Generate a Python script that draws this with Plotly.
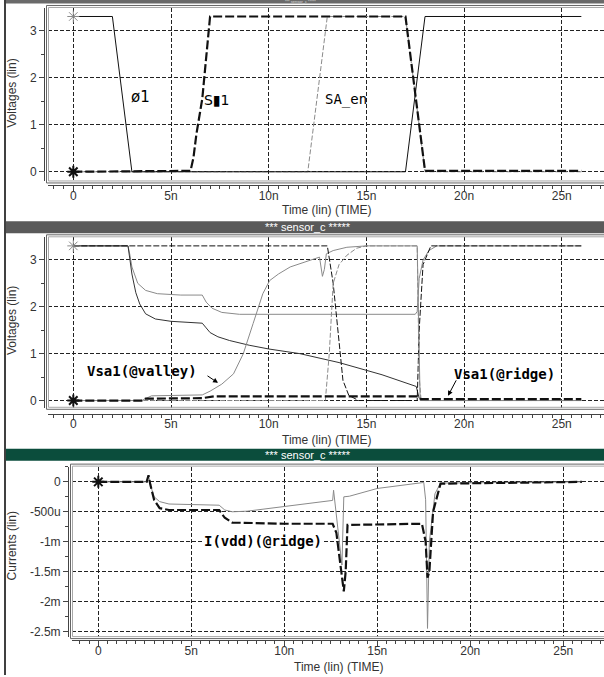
import plotly.graph_objects as go

W, H = 604, 677


def px(x):
    return x / W


def py(y):
    return 1 - y / H


# ---------------- data (time in ns) ----------------
# Panel 1 : voltages
t_phi1 = [0, 2.0, 3.0, 17.0, 18.0, 26.0]
v_phi1 = [3.3, 3.3, 0.0, 0.0, 3.3, 3.3]

t_sw1 = [0, 6.0, 6.15, 6.3, 6.6, 7.0, 17.0, 18.0, 26.0]
v_sw1 = [0.0, 0.02, 0.3, 0.8, 1.55, 3.3, 3.3, 0.02, 0.02]

t_saen = [0, 12.0, 13.0, 17.0, 18.0, 26.0]
v_saen = [0.0, 0.0, 3.3, 3.3, 0.0, 0.0]

# Panel 2 : voltages
t_a = [0, 2.8, 2.9, 3.0, 3.3, 3.7, 4.3, 5.5, 6.6, 6.8, 7.1, 7.6, 8.5, 17.5, 17.6, 17.7, 17.9, 18.2, 18.6, 26.0]
v_a = [3.3, 3.3, 3.1, 2.85, 2.5, 2.35, 2.28, 2.25, 2.25, 2.1, 1.97, 1.88, 1.84, 1.84, 1.9, 2.6, 3.0, 3.2, 3.3, 3.3]

t_b = [0, 2.8, 2.9, 3.0, 3.2, 3.4, 3.7, 4.2, 5.0, 6.6, 6.8, 7.0, 7.4, 8.0, 9.0, 10.0, 11.6, 13.6, 15.8, 17.55, 17.7, 18.0, 26.0]
v_b = [3.3, 3.3, 3.0, 2.7, 2.3, 2.06, 1.85, 1.74, 1.69, 1.65, 1.55, 1.45, 1.36, 1.28, 1.18, 1.1, 1.0, 0.81, 0.55, 0.3, 0.05, 0.0, 0.0]

t_valley = [0, 3.5, 4.0, 6.6, 7.0, 7.6, 8.2, 8.7, 9.2, 9.7, 10.05, 10.5, 11.1, 11.6, 12.6, 12.75, 12.85, 12.95, 13.3, 14.0, 15.0, 17.6, 17.75, 17.9, 26.0]
v_valley = [0.0, 0.0, 0.1, 0.12, 0.2, 0.35, 0.57, 1.0, 1.64, 2.28, 2.56, 2.7, 2.85, 2.92, 3.06, 2.65, 2.8, 3.13, 3.2, 3.27, 3.3, 3.3, 0.0, 0.0, 0.0]

t_d = [0, 2.8, 13.0, 13.3, 13.6, 13.8, 14.1, 14.6, 17.6, 17.7, 17.9, 18.3, 26.0]
v_d = [3.3, 3.3, 3.3, 2.5, 1.2, 0.43, 0.11, 0.0, 0.0, 1.5, 2.9, 3.3, 3.3]

t_e = [0, 12.9, 13.1, 13.3, 13.6, 14.0, 14.5, 15.0, 17.6, 17.7, 17.8, 26.0]
v_e = [0.0, 0.0, 1.0, 2.5, 2.9, 3.1, 3.25, 3.3, 3.3, 0.5, 0.0, 0.0]

t_ridge = [0, 3.5, 3.7, 6.6, 7.2, 17.6, 17.8, 26.0]
v_ridge = [0.0, 0.0, 0.04, 0.05, 0.09, 0.09, 0.03, 0.03]

# Panel 3 : currents (mA)
t_i_ridge = [0, 2.6, 2.7, 2.8, 3.0, 3.3, 3.8, 6.5, 6.8, 7.2, 10.0, 12.6, 12.8, 13.0, 13.2, 13.3, 13.4, 17.4, 17.6, 17.7, 17.8, 18.0, 18.4, 26.0]
i_ridge = [0, 0, 0.11, -0.05, -0.3, -0.44, -0.47, -0.47, -0.6, -0.68, -0.7, -0.7, -0.85, -1.3, -1.83, -1.5, -0.72, -0.7, -1.0, -1.6, -1.5, -0.5, -0.03, 0]

t_i_valley = [0, 2.6, 2.7, 2.8, 3.0, 3.3, 3.8, 6.5, 6.8, 7.2, 8.0, 10.9, 12.6, 12.65, 12.9, 13.1, 13.2, 13.5, 15.0, 17.5, 17.6, 17.7, 17.8, 18.1, 18.4, 26.0]
i_valley = [0, 0, 0.11, -0.05, -0.25, -0.33, -0.37, -0.39, -0.47, -0.5, -0.49, -0.38, -0.31, -0.14, -0.8, -1.39, -0.25, -0.24, -0.11, -0.01, -0.3, -2.45, -1.0, -0.2, -0.02, 0]

x_ticks = [0, 5, 10, 15, 20, 25]
x_labels = ["0", "5n", "10n", "15n", "20n", "25n"]
v_ticks = [0, 1, 2, 3]
v_labels = ["0", "1", "2", "3"]
i_ticks = [0, -0.5, -1.0, -1.5, -2.0, -2.5]
i_labels = ["0", "-500u", "-1m", "-1.5m", "-2m", "-2.5m"]

# ---------------- figure ----------------
fig = go.Figure()

GRAY = "#8a8a8a"
BLACK = "#111111"


def add_line(t, v, n, color, width, dash="solid"):
    fig.add_trace(go.Scatter(
        x=t, y=v, xaxis="x" if n == 1 else f"x{n}", yaxis="y" if n == 1 else f"y{n}",
        mode="lines", line=dict(color=color, width=width, dash=dash),
        hoverinfo="skip", showlegend=False))


def add_star(x, y, n, color, width):
    fig.add_trace(go.Scatter(
        x=[x], y=[y], xaxis="x" if n == 1 else f"x{n}", yaxis="y" if n == 1 else f"y{n}",
        mode="markers", marker=dict(symbol="asterisk-open", size=10, color=color,
                                    line=dict(color=color, width=width)),
        hoverinfo="skip", showlegend=False))


# panel 1
add_line(t_saen, v_saen, 1, GRAY, 1, "5px,2px")
add_line(t_phi1, v_phi1, 1, BLACK, 1)
add_line(t_sw1, v_sw1, 1, BLACK, 2.2, "9px,3px")
add_star(0, 3.3, 1, GRAY, 1)
add_star(0, 0, 1, BLACK, 2)

# panel 2
add_line(t_a, v_a, 2, GRAY, 1)
add_line(t_b, v_b, 2, "#333333", 1)
add_line(t_valley, v_valley, 2, GRAY, 1)
add_line(t_d, v_d, 2, BLACK, 1, "6px,2px")
add_line(t_e, v_e, 2, GRAY, 1, "5px,2px")
add_line(t_ridge, v_ridge, 2, BLACK, 2.2, "9px,3px")
add_star(0, 3.3, 2, GRAY, 1)
add_star(0, 0, 2, BLACK, 2)

# panel 3
add_line(t_i_valley, i_valley, 3, GRAY, 1)
add_line(t_i_ridge, i_ridge, 3, BLACK, 2.2, "9px,3px")
add_star(0, 0, 3, BLACK, 2)

TICKFONT = dict(family="Liberation Sans", size=12, color="#333333")

panels = [
    # n, x-left px, x-range, ruler y px, y top px, y bottom px, y-range, y ruler x px, ticks
    (1, 48, [-1.295, 27.16], 186, 8, 182, [-0.206, 3.481], 44, v_ticks, v_labels, 0.5),
    (2, 48, [-1.295, 27.16], 415, 238, 409, [-0.155, 3.483], 44, v_ticks, v_labels, 0.5),
    (3, 72, [-1.414, 27.19], 642, 468, 639, [-2.595, 0.255], 68, i_ticks, i_labels, 0.25),
]

layout = dict(
    width=W, height=H, margin=dict(l=0, r=0, t=0, b=0),
    paper_bgcolor="white", plot_bgcolor="white", showlegend=False,
)

for n, xl, xr, xrul, yt, yb, yr, yrul, yt_vals, yt_text, ymin in panels:
    sx = "" if n == 1 else str(n)
    layout["xaxis" + sx] = dict(
        domain=[px(xl), 1], range=xr, anchor="free", position=py(xrul),
        tickmode="array", tickvals=x_ticks, ticktext=x_labels,
        showgrid=True, gridcolor="#222222", gridwidth=1, griddash="4px,2px",
        zeroline=False, showline=True, linecolor="#444444", linewidth=1,
        ticks="outside", ticklen=5, tickcolor="#444444", tickfont=TICKFONT,
        ticklabelstandoff=-6,
        minor=dict(tickmode="linear", tick0=0, dtick=0.5, ticks="outside",
                   ticklen=3, tickcolor="#444444", showgrid=False),
        fixedrange=True,
    )
    layout["yaxis" + sx] = dict(
        domain=[py(yb), py(yt)], range=yr, anchor="free", position=px(yrul),
        tickmode="array", tickvals=yt_vals, ticktext=yt_text,
        showgrid=True, gridcolor="#222222", gridwidth=1, griddash="4px,2px",
        zeroline=False, showline=True, linecolor="#444444", linewidth=1,
        ticks="outside", ticklen=5, tickcolor="#444444", tickfont=TICKFONT,
        minor=dict(tickmode="linear", tick0=0, dtick=ymin, ticks="outside",
                   ticklen=3, tickcolor="#444444", showgrid=False),
        fixedrange=True,
    )

shapes = []
# outer black left border
shapes.append(dict(type="line", xref="paper", yref="paper", x0=px(5), x1=px(5), y0=0, y1=1,
                   line=dict(color="black", width=1.5)))
# title bars
shapes.append(dict(type="rect", xref="paper", yref="paper", x0=px(6), x1=1, y0=py(3.5), y1=1,
                   fillcolor="#6a6a6a", line=dict(width=0)))
shapes.append(dict(type="rect", xref="paper", yref="paper", x0=px(6), x1=1, y0=py(234), y1=py(222),
                   fillcolor="#5a5a5a", line=dict(width=0)))
shapes.append(dict(type="rect", xref="paper", yref="paper", x0=px(6), x1=1, y0=py(462), y1=py(450),
                   fillcolor="#0b4d3c", line=dict(width=0)))
# plot frames (double lines)
for n, xl, xr, xrul, yt, yb, yr, yrul, *_ in panels:
    shapes.append(dict(type="rect", xref="paper", yref="paper", x0=px(xl - 1.5), x1=px(612),
                       y0=py(yb + 1.5), y1=py(yt - 2.5), line=dict(color="#666666", width=1)))
    shapes.append(dict(type="rect", xref="paper", yref="paper", x0=px(xl + 0.5), x1=px(612),
                       y0=py(yb - 0.5), y1=py(yt - 0.5), line=dict(color="#a8a8a8", width=1)))
layout["shapes"] = shapes

ann = []
AXFONT = dict(family="Liberation Sans", size=12, color="#333333")
LBLFONT = dict(family="DejaVu Sans Mono", size=14, color="black")


def text(x, y, s, font, **kw):
    d = dict(xref="paper", yref="paper", x=px(x), y=py(y), text=s, showarrow=False,
             font=font, xanchor="center", yanchor="middle")
    d.update(kw)
    ann.append(d)


# axis titles
text(12, 94, "Voltages (lin)", AXFONT, textangle=-90)
text(12, 322, "Voltages (lin)", AXFONT, textangle=-90)
text(12, 548, "Currents (lin)", AXFONT, textangle=-90)
text(327, 211, "Time (lin) (TIME)", AXFONT)
text(327, 441, "Time (lin) (TIME)", AXFONT)
text(339, 669, "Time (lin) (TIME)", AXFONT)
# bar titles
text(308, 228, "*** sensor_c *****", dict(family="Liberation Sans", size=11, color="white"))
text(308, 456, "*** sensor_c *****", dict(family="Liberation Sans", size=11, color="white"))
text(300, 2, "*** sensor_c *****", dict(family="Liberation Sans", size=4, color="#dddddd"))
# signal labels
text(140, 97, "ø1", dict(family="DejaVu Sans", size=15, color="black"))
text(217, 100, "S▮1", dict(family="DejaVu Sans", size=14, color="black"))
text(346, 100, "SA_en", dict(family="DejaVu Sans Mono", size=14, color="black"))
text(142, 372, "<b>Vsa1(@valley)</b>", LBLFONT)
text(504, 375, "<b>Vsa1(@ridge)</b>", LBLFONT)
text(263, 543, "<b>I(vdd)(@ridge)</b>", LBLFONT, bgcolor="white")
# arrows
for hx, hy, tx, ty in [(218, 384, 206, 376), (448, 397, 457, 380)]:
    ann.append(dict(xref="paper", yref="paper", x=px(hx), y=py(hy), ax=tx - hx, ay=ty - hy,
                    axref="pixel", ayref="pixel", text="", showarrow=True, arrowhead=2,
                    arrowsize=1, arrowwidth=1, arrowcolor="black"))
layout["annotations"] = ann

fig.update_layout(**layout)
fig.write_html("out.html", config={"displayModeBar": False},
               post_script="document.body.style.margin='0';document.body.style.overflow='hidden';")
